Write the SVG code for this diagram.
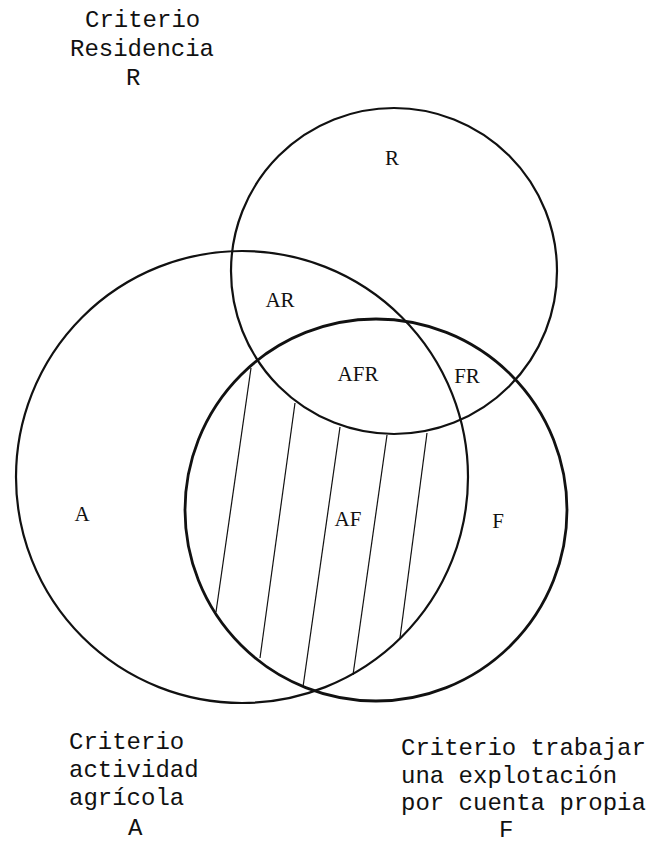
<svg xmlns="http://www.w3.org/2000/svg" width="651" height="845" viewBox="0 0 651 845">
<style>
.c{fill:none;stroke:#111;stroke-width:2.2}
.cf{fill:none;stroke:#111;stroke-width:2.8}
.h{stroke:#111;stroke-width:1.2}
.t{font-family:"Liberation Mono","DejaVu Sans Mono",monospace;font-size:24px;fill:#111}
.l{font-family:"Liberation Serif","DejaVu Serif",serif;font-size:21px;fill:#111;text-anchor:middle}
</style>
<rect width="651" height="845" fill="#fff"/>
<g id="circle-R"><circle class="c" cx="394" cy="271" r="163"/></g>
<g id="circle-A"><circle class="c" cx="242" cy="477" r="226"/></g>
<g id="circle-F"><circle class="cf" cx="376" cy="510" r="191"/></g>
<g id="hatching">
<line class="h" x1="251" y1="368" x2="216" y2="612"/>
<line class="h" x1="295" y1="403" x2="260" y2="658"/>
<line class="h" x1="340" y1="427" x2="303" y2="687"/>
<line class="h" x1="387" y1="435" x2="353" y2="675"/>
<line class="h" x1="427" y1="433" x2="400" y2="638"/>
</g>
<g id="region-labels">
<text class="l" x="392" y="165">R</text>
<text class="l" x="280" y="307">AR</text>
<text class="l" x="358" y="381">AFR</text>
<text class="l" x="467" y="383">FR</text>
<text class="l" x="82" y="521">A</text>
<text class="l" x="348" y="526">AF</text>
<text class="l" x="498" y="528">F</text>
</g>
<g id="label-R">
<text class="t" x="85" y="27">Criterio</text>
<text class="t" x="70" y="56">Residencia</text>
<text class="t" x="126" y="85">R</text>
</g>
<g id="label-A">
<text class="t" x="69" y="749">Criterio</text>
<text class="t" x="69" y="777">actividad</text>
<text class="t" x="69" y="805">agrícola</text>
<text class="t" x="128" y="835">A</text>
</g>
<g id="label-F">
<text class="t" x="401" y="755">Criterio trabajar</text>
<text class="t" x="401" y="783">una explotación</text>
<text class="t" x="401" y="810">por cuenta propia</text>
<text class="t" x="499" y="837">F</text>
</g>
</svg>
